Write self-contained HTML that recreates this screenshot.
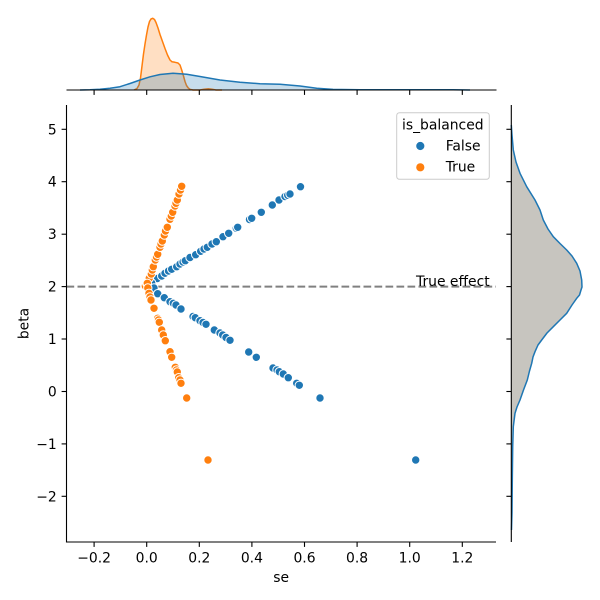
<!DOCTYPE html>
<html><head><meta charset="utf-8"><style>
html,body{margin:0;padding:0;background:#fff;}
svg{display:block;}
text{font-family:"DejaVu Sans","Liberation Sans",sans-serif;font-size:13.9px;fill:#000;}
</style></head><body>
<svg width="600" height="600" viewBox="0 0 600 600" xmlns="http://www.w3.org/2000/svg">
<rect width="600" height="600" fill="#fff"/>

<!-- Top marginal KDE -->
<path d="M134,90 L137,88.5 L139,85 L140.5,78 L142,66 L143.5,54 L145,44 L146.5,35 L148,27 L149.5,21.5 L151,19 L152.7,18.3 L154.5,19.5 L156,22.5 L158,28 L160,34.5 L162.5,41.5 L165,48.5 L167.5,55 L170,60 L172,61.8 L175,62.3 L178,63 L180,65 L181.7,70 L183.5,76 L185,81.5 L186.5,85.5 L188.3,88 L190,89.3 L193,90 L200,90 L204,89.2 L208.3,88.7 L212,89.2 L216,90 Z" fill="#ff7f0e" fill-opacity="0.25"/>
<path d="M134,90 L137,88.5 L139,85 L140.5,78 L142,66 L143.5,54 L145,44 L146.5,35 L148,27 L149.5,21.5 L151,19 L152.7,18.3 L154.5,19.5 L156,22.5 L158,28 L160,34.5 L162.5,41.5 L165,48.5 L167.5,55 L170,60 L172,61.8 L175,62.3 L178,63 L180,65 L181.7,70 L183.5,76 L185,81.5 L186.5,85.5 L188.3,88 L190,89.3 L193,90 L200,90 L204,89.2 L208.3,88.7 L212,89.2 L216,90 L222,90" fill="none" stroke="#ff7f0e" stroke-width="1.5" stroke-linejoin="round"/>
<path d="M80,90 L90,89.8 L100,89.2 L110,88.3 L120,86.7 L130,83.5 L140,80 L150,76.8 L160,74.5 L173,73.3 L186.7,74.3 L200,76.5 L220,80 L240,82.3 L260,83.7 L280,84.2 L300,86 L316.7,88.3 L333,89.4 L360,89.7 L453,89.7 L470,90 Z" fill="#1f77b4" fill-opacity="0.25"/>
<path d="M80,90 L90,89.8 L100,89.2 L110,88.3 L120,86.7 L130,83.5 L140,80 L150,76.8 L160,74.5 L173,73.3 L186.7,74.3 L200,76.5 L220,80 L240,82.3 L260,83.7 L280,84.2 L300,86 L316.7,88.3 L333,89.4 L360,89.7 L453,89.7 L470,90" fill="none" stroke="#1f77b4" stroke-width="1.5" stroke-linejoin="round"/>
<line x1="66.5" y1="90" x2="496.5" y2="90" stroke="#000" stroke-width="1.1"/>
<g stroke="#000" stroke-width="1.1">
<line x1="94.1" y1="90" x2="94.1" y2="94.9"/><line x1="146.7" y1="90" x2="146.7" y2="94.9"/>
<line x1="199.3" y1="90" x2="199.3" y2="94.9"/><line x1="251.9" y1="90" x2="251.9" y2="94.9"/>
<line x1="304.5" y1="90" x2="304.5" y2="94.9"/><line x1="357.1" y1="90" x2="357.1" y2="94.9"/>
<line x1="409.7" y1="90" x2="409.7" y2="94.9"/><line x1="462.3" y1="90" x2="462.3" y2="94.9"/>
</g>

<!-- Right marginal KDE -->
<path d="M511.3,125 L512,135 L513.3,150 L516,162 L520,173.3 L526.7,186.7 L535,200 L540,210 L543.3,220 L548,229 L553.3,236.7 L560,243.5 L566.7,250 L572,256 L576.7,263.3 L580,271 L581.7,280 L582,287 L581,290 L579.5,295 L576.7,298.3 L572,305 L566.7,313.3 L560,320 L553.3,326.7 L547,333 L541.7,340 L538,345 L535,351.7 L533,357 L531.7,363.3 L529.5,371 L527.3,380 L523.5,390 L520,400 L517,407 L515,413.3 L513.3,426.7 L512.7,446.7 L512.3,480 L512,513 L511.5,530 Z" fill="#c7c5bf"/>
<path d="M511.3,125 L512,135 L513.3,150 L516,162 L520,173.3 L526.7,186.7 L535,200 L540,210 L543.3,220 L548,229 L553.3,236.7 L560,243.5 L566.7,250 L572,256 L576.7,263.3 L580,271 L581.7,280 L582,287 L581,290 L579.5,295 L576.7,298.3 L572,305 L566.7,313.3 L560,320 L553.3,326.7 L547,333 L541.7,340 L538,345 L535,351.7 L533,357 L531.7,363.3 L529.5,371 L527.3,380 L523.5,390 L520,400 L517,407 L515,413.3 L513.3,426.7 L512.7,446.7 L512.3,480 L512,513 L511.5,530" fill="none" stroke="#1f77b4" stroke-width="1.5" stroke-linejoin="round"/>
<line x1="511.3" y1="105" x2="511.3" y2="542" stroke="#000" stroke-width="1.1"/>
<g stroke="#000" stroke-width="1.1">
<line x1="506.4" y1="129.3" x2="511.3" y2="129.3"/><line x1="506.4" y1="181.7" x2="511.3" y2="181.7"/>
<line x1="506.4" y1="234.2" x2="511.3" y2="234.2"/><line x1="506.4" y1="286.6" x2="511.3" y2="286.6"/>
<line x1="506.4" y1="339" x2="511.3" y2="339"/><line x1="506.4" y1="391.5" x2="511.3" y2="391.5"/>
<line x1="506.4" y1="443.9" x2="511.3" y2="443.9"/><line x1="506.4" y1="496.3" x2="511.3" y2="496.3"/>
</g>

<!-- Main axes: dashed line -->
<line x1="66.5" y1="286.6" x2="496" y2="286.6" stroke="#808080" stroke-width="2" stroke-dasharray="7.7,3.3"/>

<!-- Scatter points -->
<g stroke="#fff" stroke-width="1">
<g fill="#1f77b4">
<circle cx="148" cy="285" r="4.2"/><circle cx="152.3" cy="282" r="4.2"/><circle cx="157.3" cy="278.5" r="4.2"/><circle cx="161.7" cy="276" r="4.2"/><circle cx="165" cy="273.3" r="4.2"/><circle cx="168.5" cy="271" r="4.2"/><circle cx="171.7" cy="269.3" r="4.2"/><circle cx="176.7" cy="266.7" r="4.2"/><circle cx="180" cy="264" r="4.2"/><circle cx="183" cy="262" r="4.2"/><circle cx="185.3" cy="260.7" r="4.2"/><circle cx="190" cy="257.5" r="4.2"/><circle cx="195.7" cy="254.7" r="4.2"/><circle cx="200.7" cy="251.3" r="4.2"/><circle cx="204" cy="249" r="4.2"/><circle cx="207.3" cy="247.3" r="4.2"/><circle cx="212" cy="244" r="4.2"/><circle cx="216.3" cy="241.7" r="4.2"/><circle cx="223" cy="236.7" r="4.2"/><circle cx="228.7" cy="233.3" r="4.2"/><circle cx="236.3" cy="228.3" r="4.2"/><circle cx="237.7" cy="227.3" r="4.2"/><circle cx="249.5" cy="219.5" r="4.2"/><circle cx="251.7" cy="218.3" r="4.2"/><circle cx="261.3" cy="212.3" r="4.2"/><circle cx="272.3" cy="205" r="4.2"/><circle cx="279" cy="200" r="4.2"/><circle cx="285" cy="196.5" r="4.2"/><circle cx="287.7" cy="195.3" r="4.2"/><circle cx="290" cy="194" r="4.2"/><circle cx="300.5" cy="186.7" r="4.2"/>
<circle cx="151.7" cy="283" r="4.2"/><circle cx="154" cy="288" r="4.2"/><circle cx="157.7" cy="293.7" r="4.2"/><circle cx="164.3" cy="297.7" r="4.2"/><circle cx="170" cy="301.7" r="4.2"/><circle cx="173.3" cy="303.3" r="4.2"/><circle cx="176" cy="305" r="4.2"/><circle cx="181" cy="309" r="4.2"/><circle cx="193" cy="316.5" r="4.2"/><circle cx="195.3" cy="317.7" r="4.2"/><circle cx="200" cy="320.7" r="4.2"/><circle cx="203" cy="322.5" r="4.2"/><circle cx="206" cy="324.3" r="4.2"/><circle cx="214.3" cy="330" r="4.2"/><circle cx="220" cy="333" r="4.2"/><circle cx="222.7" cy="335" r="4.2"/><circle cx="226" cy="337.5" r="4.2"/><circle cx="230" cy="340.3" r="4.2"/><circle cx="248.7" cy="352" r="4.2"/><circle cx="256.3" cy="357.3" r="4.2"/><circle cx="273" cy="368" r="4.2"/><circle cx="277" cy="370" r="4.2"/><circle cx="279.3" cy="371.7" r="4.2"/><circle cx="283.3" cy="374" r="4.2"/><circle cx="288.3" cy="377.7" r="4.2"/><circle cx="296.7" cy="383.3" r="4.2"/><circle cx="299.3" cy="385.3" r="4.2"/><circle cx="320" cy="398" r="4.2"/>
<circle cx="415.7" cy="460" r="4.2"/>
</g>
<g fill="#ff7f0e">
<circle cx="145.3" cy="286" r="4.2"/><circle cx="146.7" cy="283.3" r="4.2"/><circle cx="149.3" cy="278.3" r="4.2"/><circle cx="151.3" cy="274" r="4.2"/><circle cx="152.3" cy="270" r="4.2"/><circle cx="153.3" cy="266.7" r="4.2"/><circle cx="155.3" cy="260" r="4.2"/><circle cx="156.5" cy="257" r="4.2"/><circle cx="157.7" cy="254.3" r="4.2"/><circle cx="160" cy="247.3" r="4.2"/><circle cx="161" cy="244" r="4.2"/><circle cx="162.3" cy="241" r="4.2"/><circle cx="164.3" cy="235" r="4.2"/><circle cx="165.5" cy="231" r="4.2"/><circle cx="167.3" cy="227.3" r="4.2"/><circle cx="170" cy="219.3" r="4.2"/><circle cx="171.3" cy="216" r="4.2"/><circle cx="172.7" cy="212.3" r="4.2"/><circle cx="175" cy="206" r="4.2"/><circle cx="176" cy="203.3" r="4.2"/><circle cx="177.3" cy="200" r="4.2"/><circle cx="179" cy="194" r="4.2"/><circle cx="180.5" cy="190" r="4.2"/><circle cx="181.7" cy="186.3" r="4.2"/>
<circle cx="147.3" cy="283.3" r="4.2"/><circle cx="147.8" cy="288" r="4.2"/><circle cx="149" cy="293.3" r="4.2"/><circle cx="150" cy="297" r="4.2"/><circle cx="151" cy="300" r="4.2"/><circle cx="154" cy="308.3" r="4.2"/><circle cx="157.7" cy="318.3" r="4.2"/><circle cx="158.5" cy="320" r="4.2"/><circle cx="159.3" cy="322.3" r="4.2"/><circle cx="161.7" cy="330" r="4.2"/><circle cx="163.3" cy="335" r="4.2"/><circle cx="165.3" cy="340.7" r="4.2"/><circle cx="170" cy="351.7" r="4.2"/><circle cx="171.7" cy="357.3" r="4.2"/><circle cx="175.3" cy="367.3" r="4.2"/><circle cx="176.5" cy="370" r="4.2"/><circle cx="177.3" cy="372" r="4.2"/><circle cx="178.7" cy="377.7" r="4.2"/><circle cx="180" cy="380" r="4.2"/><circle cx="181" cy="383.3" r="4.2"/><circle cx="186.7" cy="398" r="4.2"/>
<circle cx="208" cy="460" r="4.2"/>
</g>
</g>

<text x="416" y="286">True effect</text>

<!-- Main spines -->
<line x1="66.5" y1="105" x2="66.5" y2="542.5" stroke="#000" stroke-width="1.1"/>
<line x1="66" y1="542" x2="496" y2="542" stroke="#000" stroke-width="1.1"/>
<g stroke="#000" stroke-width="1.1">
<line x1="94.1" y1="542" x2="94.1" y2="546.9"/><line x1="146.7" y1="542" x2="146.7" y2="546.9"/>
<line x1="199.3" y1="542" x2="199.3" y2="546.9"/><line x1="251.9" y1="542" x2="251.9" y2="546.9"/>
<line x1="304.5" y1="542" x2="304.5" y2="546.9"/><line x1="357.1" y1="542" x2="357.1" y2="546.9"/>
<line x1="409.7" y1="542" x2="409.7" y2="546.9"/><line x1="462.3" y1="542" x2="462.3" y2="546.9"/>
<line x1="61.6" y1="129.3" x2="66.5" y2="129.3"/><line x1="61.6" y1="181.7" x2="66.5" y2="181.7"/>
<line x1="61.6" y1="234.2" x2="66.5" y2="234.2"/><line x1="61.6" y1="286.6" x2="66.5" y2="286.6"/>
<line x1="61.6" y1="339" x2="66.5" y2="339"/><line x1="61.6" y1="391.5" x2="66.5" y2="391.5"/>
<line x1="61.6" y1="443.9" x2="66.5" y2="443.9"/><line x1="61.6" y1="496.3" x2="66.5" y2="496.3"/>
</g>
<g text-anchor="middle">
<text x="94.1" y="562.3">−0.2</text><text x="146.7" y="562.3">0.0</text><text x="199.3" y="562.3">0.2</text>
<text x="251.9" y="562.3">0.4</text><text x="304.5" y="562.3">0.6</text><text x="357.1" y="562.3">0.8</text>
<text x="409.7" y="562.3">1.0</text><text x="462.3" y="562.3">1.2</text>
<text x="281.2" y="582">se</text>
</g>
<g text-anchor="end">
<text x="56.7" y="134.3">5</text><text x="56.7" y="186.7">4</text><text x="56.7" y="239.2">3</text>
<text x="56.7" y="291.6">2</text><text x="56.7" y="344">1</text><text x="56.7" y="396.5">0</text>
<text x="56.7" y="448.9">−1</text><text x="56.7" y="501.3">−2</text>
</g>
<text x="28.3" y="323.5" text-anchor="middle" transform="rotate(-90 28.3 323.5)">beta</text>

<!-- Legend -->
<rect x="396.7" y="112.7" width="92.6" height="66.6" rx="2.8" ry="2.8" fill="#fff" fill-opacity="0.8" stroke="#cccccc" stroke-width="1"/>
<text x="442.8" y="129.3" text-anchor="middle">is_balanced</text>
<circle cx="420.3" cy="146" r="4.6" fill="#1f77b4" stroke="#fff" stroke-width="1"/>
<circle cx="420.3" cy="167.3" r="4.6" fill="#ff7f0e" stroke="#fff" stroke-width="1"/>
<text x="445.7" y="150.5">False</text>
<text x="445.7" y="171.5">True</text>
</svg>
</body></html>
